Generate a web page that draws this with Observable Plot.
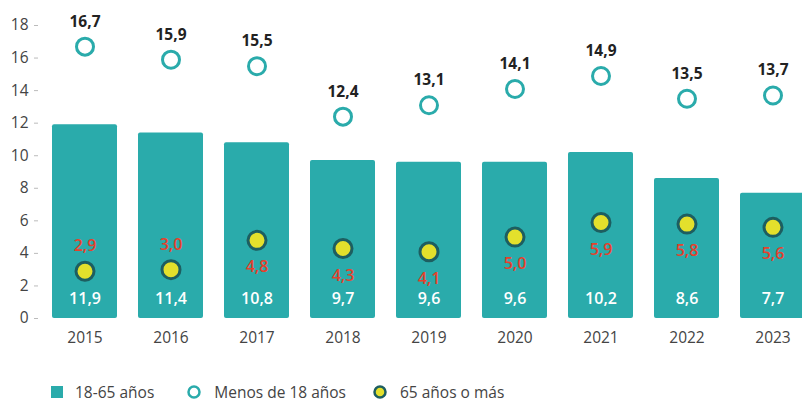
<!DOCTYPE html>
<html>
<head>
<meta charset="utf-8">
<script src="https://cdn.jsdelivr.net/npm/d3@7"></script>
<script src="https://cdn.jsdelivr.net/npm/@observablehq/plot@0.6"></script>
<style>
  html, body { margin: 0; padding: 0; background: #fff; }
  body { width: 802px; height: 402px; overflow: hidden; font-family: "Open Sans", sans-serif; }
  #chart svg { display: block; }
  .legend { display: flex; align-items: center; font-size: 15.5px; line-height: 20px; color: #444; margin-left: 51px; margin-top: 22px; }
  .legend .item { display: flex; align-items: center; margin-right: 32px; }
  .legend svg { margin-right: 12px; }
</style>
</head>
<body>
<div id="chart"></div>
<div class="legend">
  <span class="item"><svg width="12" height="12"><rect width="12" height="12" fill="#2aabab"/></svg>18-65 años</span>
  <span class="item"><svg width="16" height="16"><circle cx="8" cy="8" r="5.5" fill="#fff" stroke="#2aabab" stroke-width="2.5"/></svg>Menos de 18 años</span>
  <span class="item" style="margin-left:-6px"><svg width="16" height="16"><circle cx="8" cy="8" r="5.5" fill="#e3e02c" stroke="#1d5e60" stroke-width="2.5"/></svg>65 años o más</span>
</div>
<script>
const years = ["2015","2016","2017","2018","2019","2020","2021","2022","2023"];
const adults = [11.9, 11.4, 10.8, 9.7, 9.6, 9.6, 10.2, 8.6, 7.7];
const minors = [16.7, 15.9, 15.5, 12.4, 13.1, 14.1, 14.9, 13.5, 13.7];
const seniors = [2.9, 3.0, 4.8, 4.3, 4.1, 5.0, 5.9, 5.8, 5.6];
const seniorLabelAbove = [true, true, false, false, false, false, false, false, false];
const yTicks = [0, 2, 4, 6, 8, 10, 12, 14, 16, 18];

const data = years.map((y, i) => ({
  year: y, adult: adults[i], minor: minors[i], senior: seniors[i], above: seniorLabelAbove[i]
}));
const fmt = v => v.toFixed(1).replace(".", ",");

const chart = Plot.plot({
  width: 802,
  height: 360,
  marginLeft: 38,
  marginRight: 0,
  marginTop: 0,
  marginBottom: 42,
  style: { fontFamily: "Open Sans, sans-serif", fontSize: "15px", color: "#444", background: "#fff" },
  x: { domain: years, range: [27, 830], padding: 0.24, label: null },
  y: { domain: [0, 18], range: [318, 25], label: null },
  marks: [
    Plot.barY(data, { x: "year", y: "adult", fill: "#2aabab", rx: 2 }),
    Plot.axisY({ ticks: yTicks, tickSize: 4, tickPadding: 6, stroke: "#bbb", fill: "#444", fontSize: 15.5, label: null }),
    Plot.axisX({ tickSize: 0, tickPadding: 13, fill: "#444", fontSize: 15.5, label: null }),
    Plot.text(data, { x: "year", y: () => 1.2, text: d => fmt(d.adult), fill: "#fff", fontSize: 16, fontWeight: 600 }),
    Plot.dot(data, { x: "year", y: "minor", r: 8.5, fill: "#fff", stroke: "#2aabab", strokeWidth: 3 }),
    Plot.text(data, { x: "year", y: "minor", dy: -25, text: d => fmt(d.minor), fill: "#222", fontSize: 15.5, fontWeight: 700 }),
    Plot.dot(data, { x: "year", y: "senior", r: 9, fill: "#e3e02c", stroke: "#1d5e60", strokeWidth: 3 }),
    Plot.text(data.filter(d => d.above), { x: "year", y: "senior", dy: -25, text: d => fmt(d.senior), fill: "#e5412c", fontSize: 16, fontWeight: 600 }),
    Plot.text(data.filter(d => !d.above), { x: "year", y: "senior", dy: 27, text: d => fmt(d.senior), fill: "#e5412c", fontSize: 16, fontWeight: 600 })
  ]
});
document.getElementById("chart").appendChild(chart);
</script>
</body>
</html>
